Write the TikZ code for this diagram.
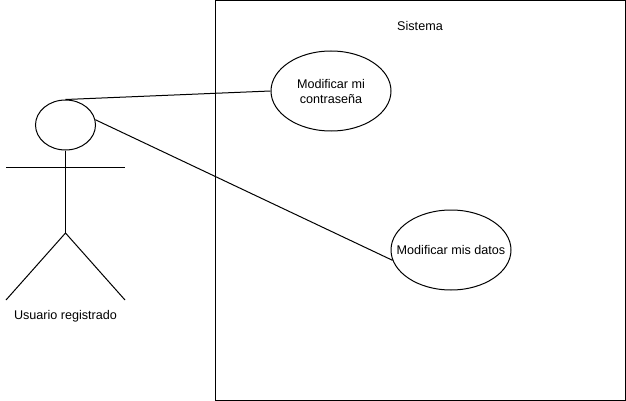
\documentclass[tikz,border=0pt]{standalone}
\usepackage{fontspec}
\setmainfont{Liberation Sans}
\usetikzlibrary{shapes.geometric}
\tikzset{
 lbl/.style={inner sep=0pt,align=center,font=\fontsize{12.6}{15}\selectfont},
 usecase/.style={draw,ellipse,minimum width=120pt,minimum height=80pt,inner sep=0pt,line width=1pt},
 ln/.style={line width=1pt}
}
\begin{document}
\begin{tikzpicture}[x=1pt,y=-1pt]
\useasboundingbox (0,0) rectangle (626,401);
\draw[ln] (215.5,0.5) rectangle (625,400.5);
\node[lbl] (sys) at (420,26) {Sistema};
\node[usecase,label={[lbl]center:Modificar mi\\contraseña}] (a) at (331,91) {};
\node[usecase,label={[lbl]center:Modificar mis datos}] (b) at (451,250) {};
\node[draw,ellipse,minimum width=60pt,minimum height=50pt,inner sep=0pt,line width=1pt] (head) at (65.5,125) {};
\coordinate (hip) at (65.5,233);
\coordinate (armL) at (6,167);
\coordinate (armR) at (125,167);
\coordinate (legL) at (6,300);
\coordinate (legR) at (125,300);
\draw[ln] (head) -- (hip);
\draw[ln] (armL) -- (armR);
\draw[ln] (legL) -- (hip) -- (legR);
\node[lbl] (actor) at (65.5,316) {Usuario registrado};
\draw[ln] (head.north) -- (a.west);
\draw[ln] (head.10) -- (b.190);
\end{tikzpicture}
\end{document}
